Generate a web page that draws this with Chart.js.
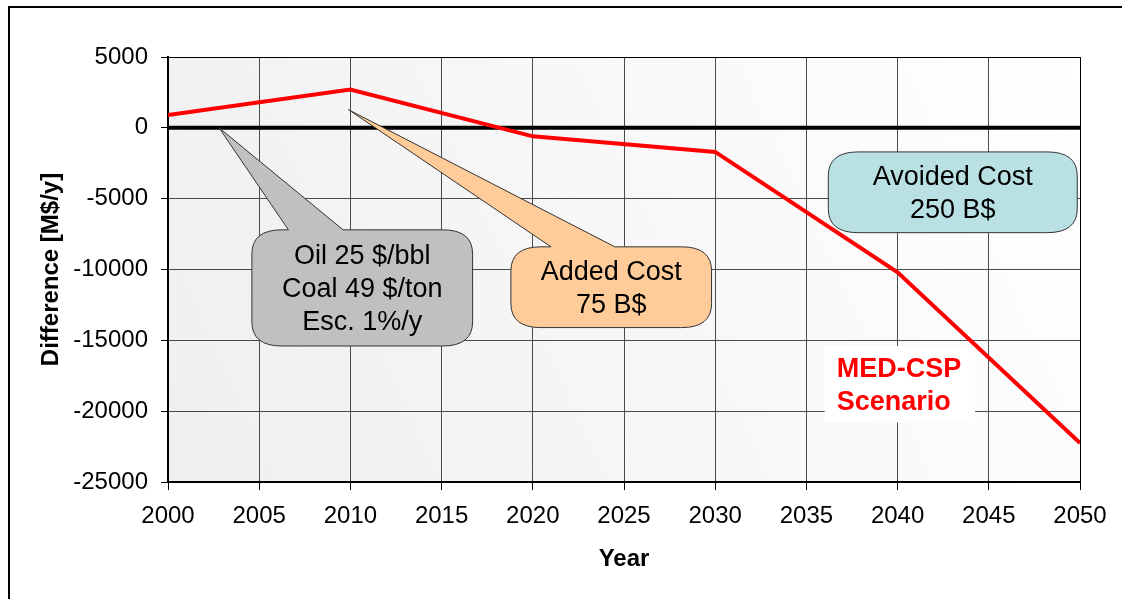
<!DOCTYPE html>
<html>
<head>
<meta charset="utf-8">
<title>MED-CSP Scenario</title>
<script src="https://cdn.jsdelivr.net/npm/chart.js@4"></script>
<style>
  html, body { margin: 0; padding: 0; background: #fff; }
  #cadre { width: 1122px; height: 599px; }
</style>
</head>
<body>
<div id="cadre"><canvas id="chart" width="1122" height="599"></canvas></div>
<script>
'use strict';

/* === DATA === */
const YEARS = [2000, 2010, 2020, 2030, 2040, 2050];
const DIFFERENCE = [900, 2700, -600, -1700, -10200, -22250];

const ZERO_YEARS = [2000, 2050];
const ZERO_VALUES = [0, 0];

const Y_TICKS = [5000, 0, -5000, -10000, -15000, -20000, -25000];
const X_TICKS = [2000, 2005, 2010, 2015, 2020, 2025, 2030, 2035, 2040, 2045, 2050];

/* === ANNOTATIONS (in data units) === */
const CALLOUTS = [
  {
    lines: ['Oil 25 $/bbl', 'Coal 49 $/ton', 'Esc. 1%/y'],
    fill: '#c0c0c0',
    box: [2004.6, 2016.7, -7200, -15400],
    tip: [2002.8, 0],
    base: [2006.6, 2009.6]
  },
  {
    lines: ['Added Cost', '75 B$'],
    fill: '#ffcc99',
    box: [2018.8, 2029.8, -8400, -14100],
    tip: [2009.9, 1280],
    base: [2021.0, 2024.5]
  },
  {
    lines: ['Avoided Cost', '250 B$'],
    fill: '#b9e0e3',
    box: [2036.2, 2049.85, -1700, -7400],
    tip: null
  }
];

const SCENARIO_LABEL = { lines: ['MED-CSP', 'Scenario'], box: [2036.0, 2044.25, -15400, -20800] };

const FONT = "'Liberation Sans', Arial, sans-serif";

/* === HELPERS === */

function toPixels(chart, box) {
  const { x, y } = chart.scales;
  return {
    left: x.getPixelForValue(box[0]),
    right: x.getPixelForValue(box[1]),
    top: y.getPixelForValue(box[2]),
    bottom: y.getPixelForValue(box[3])
  };
}

function calloutPath(ctx, r, tip, baseA, baseB) {
  const { left, right, top, bottom } = r;
  const rx = 30, ry = 24;
  ctx.beginPath();
  ctx.moveTo(left + rx, top);
  if (tip) {
    ctx.lineTo(baseA, top);
    ctx.lineTo(tip.x, tip.y);
    ctx.lineTo(baseB, top);
  }
  ctx.lineTo(right - rx, top);
  ctx.quadraticCurveTo(right, top, right, top + ry);
  ctx.lineTo(right, bottom - ry);
  ctx.quadraticCurveTo(right, bottom, right - rx, bottom);
  ctx.lineTo(left + rx, bottom);
  ctx.quadraticCurveTo(left, bottom, left, bottom - ry);
  ctx.lineTo(left, top + ry);
  ctx.quadraticCurveTo(left, top, left + rx, top);
  ctx.closePath();
}

function drawLines(ctx, lines, cx, cy, step) {
  const start = cy - (lines.length - 1) * step / 2;
  lines.forEach((txt, i) => ctx.fillText(txt, cx, start + i * step));
}

/* === PLUGINS === */

const backgroundPlugin = {
  id: 'background',
  beforeDraw(chart) {
    const { ctx, chartArea: a } = chart;
    ctx.save();
    ctx.fillStyle = '#ffffff';
    ctx.fillRect(0, 0, chart.width, chart.height);

    // outer frame (only left and top edges are visible)
    ctx.strokeStyle = '#000';
    ctx.lineWidth = 2;
    ctx.beginPath();
    ctx.moveTo(9, chart.height);
    ctx.lineTo(9, 7);
    ctx.lineTo(chart.width, 7);
    ctx.stroke();

    const grad = ctx.createLinearGradient(a.left, a.bottom, a.right, a.top);
    grad.addColorStop(0, '#efefef');
    grad.addColorStop(1, '#ffffff');
    ctx.fillStyle = grad;
    ctx.fillRect(a.left, a.top, a.right - a.left, a.bottom - a.top);
    ctx.restore();
  },
  beforeDatasetsDraw(chart) {
    const { ctx, chartArea: a } = chart;
    ctx.save();
    ctx.strokeStyle = '#000';
    ctx.lineWidth = 1;
    ctx.beginPath();
    ctx.moveTo(a.left, a.top + 0.5);
    ctx.lineTo(a.right + 0.5, a.top + 0.5);
    ctx.lineTo(a.right + 0.5, a.bottom);
    ctx.stroke();

    // white label box, under the red line
    const r = toPixels(chart, SCENARIO_LABEL.box);
    ctx.fillStyle = '#ffffff';
    ctx.fillRect(r.left, r.top, r.right - r.left, r.bottom - r.top);
    ctx.restore();
  },
  afterDatasetsDraw(chart) {
    const { ctx } = chart;
    const { x, y } = chart.scales;
    ctx.save();

    CALLOUTS.forEach(c => {
      const r = toPixels(chart, c.box);
      const tip = c.tip ? { x: x.getPixelForValue(c.tip[0]), y: y.getPixelForValue(c.tip[1]) } : null;
      const baseA = c.tip ? x.getPixelForValue(c.base[0]) : 0;
      const baseB = c.tip ? x.getPixelForValue(c.base[1]) : 0;
      calloutPath(ctx, r, tip, baseA, baseB);
      ctx.fillStyle = c.fill;
      ctx.fill();
      ctx.strokeStyle = '#333';
      ctx.lineWidth = 1;
      ctx.stroke();

      ctx.fillStyle = '#000';
      ctx.font = `27px ${FONT}`;
      ctx.textAlign = 'center';
      ctx.textBaseline = 'middle';
      drawLines(ctx, c.lines, (r.left + r.right) / 2, (r.top + r.bottom) / 2 + 2, 33);
    });

    const s = toPixels(chart, SCENARIO_LABEL.box);
    ctx.fillStyle = '#ff0000';
    ctx.font = `bold 27px ${FONT}`;
    ctx.textAlign = 'left';
    ctx.textBaseline = 'middle';
    drawLines(ctx, SCENARIO_LABEL.lines, s.left + 12, (s.top + s.bottom) / 2 + 2, 33);

    ctx.restore();
  }
};

/* === CHART === */

function initChart() {
  Chart.defaults.font.family = FONT;
  Chart.defaults.color = '#000';

  const ctx = document.getElementById('chart').getContext('2d');
  return new Chart(ctx, {
    type: 'line',
    data: {
      datasets: [
        {
          label: 'MED-CSP Scenario',
          data: YEARS.map((yr, i) => ({ x: yr, y: DIFFERENCE[i] })),
          borderColor: '#ff0000',
          borderWidth: 4,
          pointRadius: 0,
          tension: 0
        },
        {
          label: 'zero',
          data: ZERO_YEARS.map((yr, i) => ({ x: yr, y: ZERO_VALUES[i] })),
          borderColor: '#000000',
          borderWidth: 4,
          borderCapStyle: 'butt',
          pointRadius: 0
        }
      ]
    },
    options: {
      responsive: false,
      animation: false,
      layout: { padding: { top: 57, right: 42, left: 0, bottom: 0 } },
      plugins: {
        legend: { display: false },
        tooltip: { enabled: false }
      },
      scales: {
        x: {
          type: 'linear',
          min: X_TICKS[0],
          max: X_TICKS[X_TICKS.length - 1],
          afterBuildTicks: scale => { scale.ticks = X_TICKS.map(v => ({ value: v })); },
          afterFit: scale => { scale.height = 117; },
          ticks: {
            font: { size: 24 },
            padding: 12,
            maxRotation: 0,
            autoSkip: false,
            callback: v => String(v)
          },
          grid: { color: '#4a4a4a', lineWidth: 1, tickLength: 8, tickColor: '#000' },
          border: { color: '#000', width: 2 },
          title: {
            display: true,
            text: 'Year',
            font: { size: 24, weight: 'bold' },
            padding: { top: 0, bottom: 25 }
          }
        },
        y: {
          min: Y_TICKS[Y_TICKS.length - 1],
          max: Y_TICKS[0],
          afterBuildTicks: scale => { scale.ticks = Y_TICKS.map(v => ({ value: v })); },
          afterFit: scale => { scale.width = 168; },
          ticks: {
            font: { size: 24 },
            padding: 13,
            callback: v => String(v)
          },
          grid: { color: '#4a4a4a', lineWidth: 1, tickLength: 7, tickColor: '#000' },
          border: { color: '#000', width: 2 },
          title: {
            display: true,
            text: 'Difference [M$/y]',
            font: { size: 24, weight: 'bold' },
            padding: { top: 37, bottom: 0 }
          }
        }
      }
    },
    plugins: [backgroundPlugin]
  });
}

/* === START === */

document.addEventListener('DOMContentLoaded', () => {
  initChart();
});
</script>
</body>
</html>
